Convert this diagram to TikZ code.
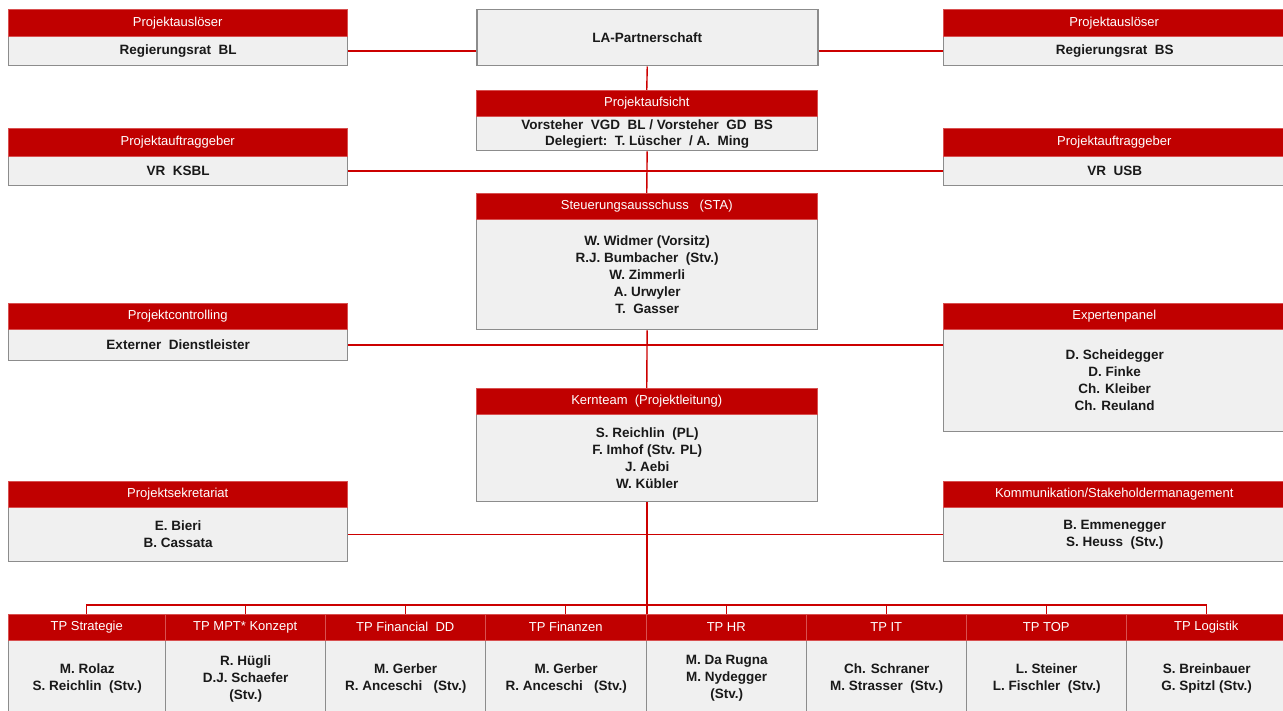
\documentclass[tikz,border=0pt]{standalone}
\usepackage{fontspec}
\setmainfont{Liberation Sans}
\definecolor{hdrred}{HTML}{C00000}
\definecolor{hdredge}{HTML}{D85050}
\definecolor{bodyfill}{HTML}{F0F0F0}
\definecolor{edgegray}{HTML}{8C8C8C}
\definecolor{linkred}{HTML}{CC0000}
\tikzset{
  hdrbox/.style={fill=hdrred, draw=hdredge, line width=0.5pt, inner sep=0pt,
    text=white, font=\fontsize{13}{17}\selectfont, align=center},
  bodybox/.style={fill=bodyfill, draw=edgegray, line width=1.3pt, inner sep=0pt,
    text=black!90, font=\fontsize{13.5}{17}\selectfont\bfseries, align=center},
  link/.style={draw=linkred, line width=1.4pt}
}
% \orgunit{name}{x}{y}{width}{header height}{body height}{title}{members}
\newcommand\orgunit[8]{%
  \node[bodybox, minimum width=#4pt, minimum height=#6pt, anchor=north west] (#1) at (#2,#3+#5) {#8};
  \node[hdrbox, minimum width=#4pt, minimum height=#5pt, anchor=north west] (#1H) at (#2,#3) {#7};
}
\begin{document}
\begin{tikzpicture}[x=1pt,y=-1pt]
\useasboundingbox (0,0) rectangle (1283,711);
\clip (0,0) rectangle (1283,711);

\coordinate (busY) at (0,605);

% top level
\node[bodybox, line width=1.5pt, minimum width=341pt, minimum height=56pt, anchor=north west] (la) at (476,9) {LA-Partnerschaft};

\orgunit{ral}{8}{9}{339}{27}{29}{Projektausl\"oser}{Regierungsrat\ \ BL}
\orgunit{ras}{943}{9}{342}{27}{29}{Projektausl\"oser}{Regierungsrat\ \ BS}

\orgunit{pa}{476}{90}{341}{26}{34}{Projektaufsicht}{Vorsteher\ \ VGD\ \ BL / Vorsteher\ \ GD\ \ BS\\[-1pt]Delegiert:\ \ T. L\"uscher\ \ / A.\ \ Ming}

\orgunit{agl}{8}{128}{339}{28}{29}{Projektauftraggeber}{VR\ \ KSBL}
\orgunit{agr}{943}{128}{342}{28}{29}{Projektauftraggeber}{VR\ \ USB}

\orgunit{sta}{476}{193}{341}{26}{110}{Steuerungsausschuss\ \ \ (STA)}{W. Widmer (Vorsitz)\\R.J. Bumbacher\ \ (Stv.)\\W. Zimmerli\\A. Urwyler\\T.\ \ Gasser}

\orgunit{pc}{8}{303}{339}{26}{31}{Projektcontrolling}{Externer\ \ Dienstleister}
\orgunit{ep}{943}{303}{342}{26}{102}{Expertenpanel}{D. Scheidegger\\D. Finke\\Ch. Kleiber\\Ch. Reuland}

\orgunit{kt}{476}{388}{341}{26}{87}{Kernteam\ \ (Projektleitung)}{S. Reichlin\ \ (PL)\\F. Imhof (Stv. PL)\\J. Aebi\\W. K\"ubler}

\orgunit{ps}{8}{481}{339}{26}{54}{Projektsekretariat}{E. Bieri\\B. Cassata}
\orgunit{km}{943}{481}{342}{26}{54}{Kommunikation/Stakeholdermanagement}{B. Emmenegger\\S. Heuss\ \ (Stv.)}

% sub-projects
\orgunit{tpa}{8}{614}{157}{26}{76}{TP Strategie}{M. Rolaz\\S. Reichlin\ \ (Stv.)}
\orgunit{tpb}{165}{614}{160}{26}{76}{TP MPT* Konzept}{R. H\"ugli\\D.J. Schaefer\\(Stv.)}
\orgunit{tpc}{325}{614}{160}{26}{76}{TP Financial\ \ DD}{M. Gerber\\R. Anceschi\ \ \ (Stv.)}
\orgunit{tpd}{485}{614}{161}{26}{76}{TP Finanzen}{M. Gerber\\R. Anceschi\ \ \ (Stv.)}
\orgunit{tpe}{646}{614}{160}{26}{76}{TP HR}{M. Da Rugna\\M. Nydegger\\(Stv.)}
\orgunit{tpf}{806}{614}{160}{26}{76}{TP IT}{Ch. Schraner\\M. Strasser\ \ (Stv.)}
\orgunit{tpg}{966}{614}{160}{26}{76}{TP TOP}{L. Steiner\\L. Fischler\ \ (Stv.)}
\orgunit{tph}{1126}{614}{160}{26}{76}{TP Logistik}{S. Breinbauer\\G. Spitzl (Stv.)}

% lines of the hierarchy
\draw[link] (ral.east) -- (ral.east -| la.west);
\draw[link] (la.east |- ras.west) -- (ras.west);
\draw[link] (la.south) -- (paH.north);
\draw[link] (pa.south) -- (staH.north);
\draw[link] (agl.east) -- (agr.west);
\draw[link] (sta.south) -- (ktH.north);
\draw[link] (pc.east) -- (pc.east -| ep.west);
\draw[link] (ps.east) -- (km.west);

\coordinate (bus) at (kt.south |- busY);
\draw[link] (kt.south) -- (bus) -- (bus |- tpeH.north);
\draw[link] (tpaH.north) -- (tpaH.north |- busY) -- (tphH.north |- busY) -- (tphH.north);
\foreach \t in {tpb,tpc,tpd,tpe,tpf,tpg}
  \draw[link] (\t H.north) -- (\t H.north |- busY);
\end{tikzpicture}
\end{document}
